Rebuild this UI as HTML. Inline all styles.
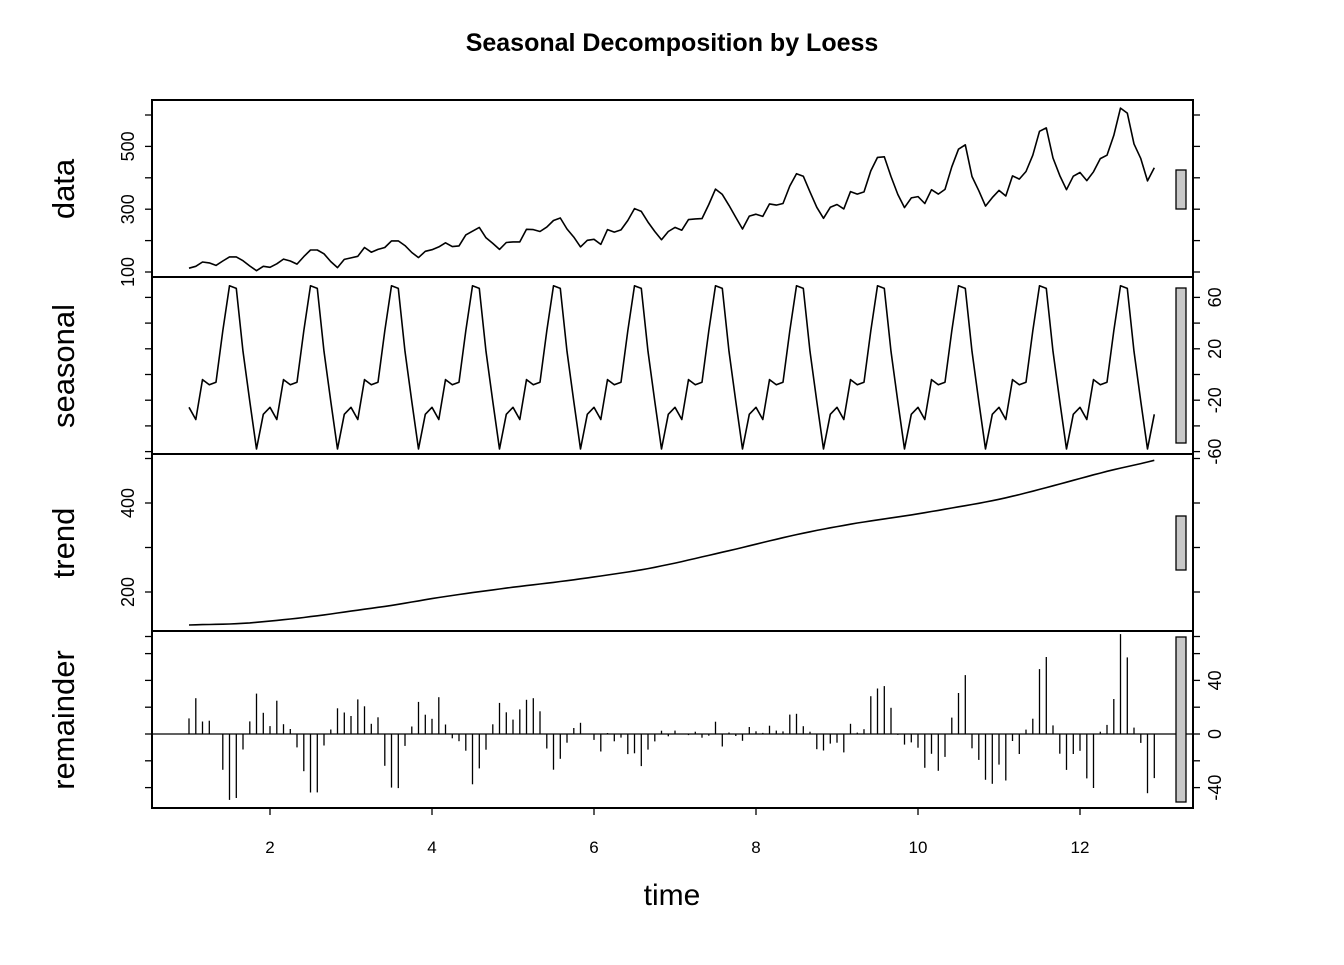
<!DOCTYPE html>
<html><head><meta charset="utf-8"><style>
html,body{margin:0;padding:0;background:#fff}
svg text{font-family:"Liberation Sans",Arial,sans-serif;fill:#000}
</style></head><body>
<svg id="s" width="1344" height="960" xmlns="http://www.w3.org/2000/svg"></svg>
<script>
const d=[112,118,132,129,121,135,148,148,136,119,104,118,115,126,141,135,125,149,170,170,158,133,114,140,145,150,178,163,172,178,199,199,184,162,146,166,171,180,193,181,183,218,230,242,209,191,172,194,196,196,236,235,229,243,264,272,237,211,180,201,204,188,235,227,234,264,302,293,259,229,203,229,242,233,267,269,270,315,364,347,312,274,237,278,284,277,317,313,318,374,413,405,355,306,271,306,315,301,356,348,355,422,465,467,404,347,305,336,340,318,362,348,363,435,491,505,404,359,310,337,360,342,406,396,420,472,548,559,463,407,362,405,417,391,419,461,472,535,622,606,508,461,390,432];
const sp=[-25.5,-35,-4,-8,-6,34,69,67,18,-21,-58,-31];
const n=d.length;
const X=i=>189+81*(i/12);
const ds=d.map((v,i)=>v-sp[i%12]);
const tr=[];const h=22;
for(let i=0;i<n;i++){let sw=0,sx=0,sy=0,sxx=0,sxy=0;
 for(let j=Math.max(0,i-h);j<=Math.min(n-1,i+h);j++){const u=Math.abs(j-i)/(h+1);const w=Math.pow(1-u*u*u,3);
  sw+=w;sx+=w*j;sy+=w*ds[j];sxx+=w*j*j;sxy+=w*j*ds[j];}
 const mx=sx/sw,my=sy/sw;const b=(sxy/sw-mx*my)/(sxx/sw-mx*mx);tr.push(my+b*(i-mx));}
const rem=d.map((v,i)=>v-sp[i%12]-tr[i]);
let s='';
const Yd=v=>272-(v-100)*0.314, Ys=v=>374.5-1.285*v, Yt=v=>592-(v-200)*0.445, Yr=v=>734-1.34*v;
function line(arr,Y){return '<polyline fill="none" stroke="#000" stroke-width="1.6" stroke-linejoin="round" points="'+arr.map((v,i)=>X(i).toFixed(1)+','+Y(v).toFixed(1)).join(' ')+'"/>';}
s+=line(d,Yd)+line(d.map((v,i)=>sp[i%12]),Ys)+line(tr,Yt);
s+='<line x1="152" x2="1193" y1="734" y2="734" stroke="#000" stroke-width="1.3"/>';
rem.forEach((v,i)=>{s+=`<line x1="${X(i).toFixed(1)}" x2="${X(i).toFixed(1)}" y1="734" y2="${Yr(v).toFixed(1)}" stroke="#000" stroke-width="1.3"/>`;});
[[100,277],[277,454],[454,631],[631,808]].forEach(p=>{s+=`<rect x="152" y="${p[0]}" width="1041" height="${p[1]-p[0]}" fill="none" stroke="#000" stroke-width="2"/>`;});
function ticks(vals,Y){vals.forEach(v=>{const y=Y(v);s+=`<line x1="145" x2="152" y1="${y}" y2="${y}" stroke="#000" stroke-width="1.3"/><line x1="1193" x2="1200" y1="${y}" y2="${y}" stroke="#000" stroke-width="1.3"/>`;});}
ticks([100,200,300,400,500,600],Yd);ticks([-60,-40,-20,0,20,40,60],Ys);ticks([100,200,300,400,500],Yt);ticks([-40,-20,0,20,40,60],Yr);
function lab(x,y,t,size){s+=`<text transform="translate(${x},${y}) rotate(-90)" text-anchor="middle" font-size="${size}">${t}</text>`;}
[[100,'100'],[300,'300'],[500,'500']].forEach(a=>lab(134,Yd(a[0]),a[1],18));
[[400,'400'],[200,'200']].forEach(a=>lab(134,Yt(a[0]),a[1],18));
[[60,'60'],[20,'20'],[-20,'-20'],[-60,'-60']].forEach(a=>lab(1221,Ys(a[0]),a[1],18));
[[40,'40'],[0,'0'],[-40,'-40']].forEach(a=>lab(1221,Yr(a[0]),a[1],18));
lab(74,189,'data',31);lab(74,366,'seasonal',31);lab(74,543,'trend',31);lab(74,720,'remainder',31);
[[170,209],[288,443],[516,570],[637,802]].forEach(b=>{s+=`<rect x="1176" y="${b[0]}" width="10" height="${b[1]-b[0]}" fill="#c8c8c8" stroke="#000" stroke-width="1.3"/>`;});
[2,4,6,8,10,12].forEach(t=>{const x=189+81*(t-1);s+=`<line x1="${x}" x2="${x}" y1="808" y2="815" stroke="#000" stroke-width="1.3"/><text x="${x}" y="853" text-anchor="middle" font-size="17">${t}</text>`;});
s+=`<text x="672" y="905" text-anchor="middle" font-size="30">time</text>`;
s+=`<text x="672" y="51" text-anchor="middle" font-size="25" font-weight="bold">Seasonal Decomposition by Loess</text>`;
document.getElementById('s').innerHTML=s;
</script>
</body></html>
